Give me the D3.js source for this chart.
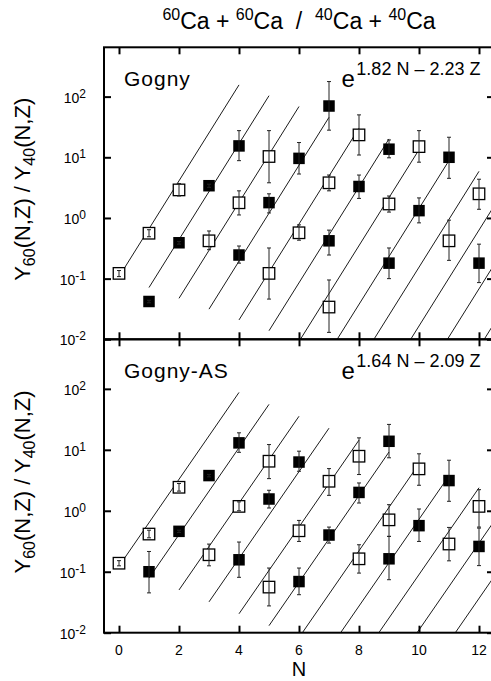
<!DOCTYPE html>
<html><head><meta charset="utf-8">
<script src="https://cdn.jsdelivr.net/npm/d3@7"></script>
<style>
body{margin:0;background:#fff}
svg{display:block}
text{font-family:"Liberation Sans",Arial,Helvetica,sans-serif;fill:#000}
</style>
</head><body>
<svg id="c" width="491" height="681"></svg>
<script>
// ---------- data ----------
// Gogny panel: neutron number, charge, ratio, error low, error high
const gN  = [0,1,2, 1,2,3,4, 3,4,5, 4,5,6,7, 5,6,7,8, 7,8,9, 7,9,10, 9,10,11, 11,12, 12];
const gZ  = [1,1,1, 2,2,2,2, 3,3,3, 4,4,4,4, 5,5,5,5, 6,6,6, 7,7,7, 8,8,8, 9,9, 10];
const gR  = [0.122,0.56,2.9, 0.042,0.39,3.4,15.4, 0.42,1.78,10.3, 0.245,1.79,9.6,70, 0.122,0.57,3.8,23.4, 0.42,3.3,13.6, 0.034,1.70,15.0, 0.18,1.32,10.0, 0.42,2.5, 0.18];
const gLo = [0.108,0.49,2.3, 0.040,0.37,3.2,8.8, 0.30,1.12,3.8, 0.18,1.21,5.3,28, 0.046,0.43,2.8,10.9, 0.245,2.1,9.8, 0.013,1.25,8.3, 0.10,0.83,4.5, 0.20,1.39, 0.086];
const gHi = [0.136,0.64,3.7, 0.044,0.41,3.6,27.5, 0.61,2.8,27.5, 0.345,2.5,17.5,177, 0.32,0.77,5.1,50, 0.63,5.1,19.3, 0.095,2.3,27.5, 0.32,2.14,21.4, 0.92,4.35, 0.37];
const gAlpha = 1.82, gBeta = 2.23;

// Gogny-AS panel
const aN  = [0,1,2, 1,2,3,4, 3,4,5, 4,5,6, 5,6,7,8, 6,7,8,9, 8,9,10, 9,10,11, 11,12, 12];
const aZ  = [1,1,1, 2,2,2,2, 3,3,3, 4,4,4, 5,5,5,5, 6,6,6,6, 7,7,7, 8,8,8, 9,9, 10];
const aR  = [0.138,0.415,2.43, 0.10,0.46,3.78,13.0, 0.19,1.18,6.5, 0.157,1.56,6.3, 0.056,0.47,3.05,7.85, 0.069,0.40,2.0,13.8, 0.163,0.71,4.87, 0.163,0.57,3.13, 0.285,1.18, 0.26];
const aLo = [0.125,0.36,2.1, 0.045,0.44,3.6,9.1, 0.125,1.0,3.37, 0.081,1.11,4.45, 0.0275,0.314,1.79,3.93, 0.042,0.295,1.34,7.4, 0.095,0.38,2.62, 0.074,0.314,1.43, 0.151,0.54, 0.126];
const aHi = [0.152,0.48,2.8, 0.215,0.48,3.95,19, 0.284,1.4,12.2, 0.307,2.17,9.5, 0.115,0.695,4.92,15.7, 0.115,0.54,2.86,26.1, 0.277,1.26,8.6, 0.38,1.07,6.75, 0.533,2.22, 0.52];
const aAlpha = 1.64, aBeta = 2.09;

// isoscaling lines: one per Z, drawn from N = Z-1 to N = Z+3
const lineZ = [1,2,3,4,5,6,7,8,9,10,11,12];
const xTicks = [0,2,4,6,8,10,12];
const yTicks = [0.01,0.1,1,10,100];
const yExp   = ["-2","-1","0","1","2"];
const panelNames = ["Gogny","Gogny-AS"];
const fitLabels = ["1.82 N \u2013 2.23 Z","1.64 N \u2013 2.09 Z"];

// ---------- drawing ----------
const svg = d3.select("#c");
const L = 104, R = 494;
const x = d3.scaleLinear().domain([-0.5,12.5]).range([L,R]);
const yDomain = [0.01,650];

const panels = [
  {top:47.3, bottom:339.3, N:gN, Z:gZ, V:gR, lo:gLo, hi:gHi, alpha:gAlpha, beta:gBeta},
  {top:339.3, bottom:632.7, N:aN, Z:aZ, V:aR, lo:aLo, hi:aHi, alpha:aAlpha, beta:aBeta}
];

// title
const title = svg.append("text").attr("x",299).attr("y",29)
  .attr("text-anchor","middle").style("white-space","pre");
[["60",true],["Ca + ",false],["60",true],["Ca  /  ",false],["40",true],["Ca + ",false],["40",true],["Ca",false]]
  .forEach(([t,sup],i,arr)=>{
    const prevSup = i>0 && arr[i-1][1];
    title.append("tspan").text(t)
      .attr("font-size", sup?16:23)
      .attr("dy", sup ? (i===0?-9:-9) : (prevSup?9:0));
  });

panels.forEach((p,pi)=>{
  const y = d3.scaleLog().domain(yDomain).range([p.bottom,p.top]);
  const g = svg.append("g");
  const clipId = "clip"+pi;
  svg.append("clipPath").attr("id",clipId).append("rect")
    .attr("x",L).attr("y",p.top).attr("width",R-L).attr("height",p.bottom-p.top);

  // fit lines
  const ratio = (n,z)=>Math.exp(p.alpha*n - p.beta*z);
  const line = d3.line().x(d=>x(d[0])).y(d=>y(d[1]));
  g.append("g").attr("clip-path",`url(#${clipId})`)
    .selectAll("path").data(lineZ).join("path")
    .attr("d",z=>line([[z-1,ratio(z-1,z)],[z+3,ratio(z+3,z)]]))
    .attr("fill","none").attr("stroke","#000").attr("stroke-width",0.9);

  const idx = d3.range(p.N.length);
  // markers
  const s = 11.5;
  g.selectAll("rect.m").data(idx).join("rect").attr("class","m")
    .attr("x",i=>x(p.N[i])-s/2).attr("y",i=>y(p.V[i])-s/2)
    .attr("width",s).attr("height",s)
    .attr("fill",i=>p.Z[i]%2===0?"#000":"#fff")
    .attr("stroke","#000")
    .attr("stroke-width",i=>p.Z[i]%2===0?0:1.3);
  // error bars
  const eb = g.append("g").attr("stroke","#222").attr("stroke-width",1);
  idx.forEach(i=>{
    const cx = x(p.N[i]), y1 = y(p.hi[i]), y2 = y(p.lo[i]);
    eb.append("line").attr("x1",cx).attr("x2",cx).attr("y1",y1).attr("y2",y2);
    eb.append("line").attr("x1",cx-2).attr("x2",cx+2).attr("y1",y1).attr("y2",y1);
    eb.append("line").attr("x1",cx-2).attr("x2",cx+2).attr("y1",y2).attr("y2",y2);
  });

  // axes ticks
  const styleAxis = sel=>{sel.select(".domain").remove();
    sel.selectAll(".tick line").attr("stroke","#000").attr("stroke-width",2);};
  svg.append("g").attr("transform",`translate(${L},0)`)
    .call(d3.axisLeft(y).tickValues(yTicks).tickSize(-7).tickFormat("")).call(styleAxis);
  svg.append("g").attr("transform",`translate(${R},0)`)
    .call(d3.axisRight(y).tickValues(yTicks).tickSize(-7).tickFormat("")).call(styleAxis);
  svg.append("g").attr("transform",`translate(0,${p.top})`)
    .call(d3.axisTop(x).tickValues(xTicks).tickSize(-7).tickFormat("")).call(styleAxis);
  svg.append("g").attr("transform",`translate(0,${p.bottom})`)
    .call(d3.axisBottom(x).tickValues(xTicks).tickSize(-7).tickFormat("")).call(styleAxis);

  // frame
  svg.append("rect").attr("x",L).attr("y",p.top).attr("width",R-L).attr("height",p.bottom-p.top)
    .attr("fill","none").attr("stroke","#000").attr("stroke-width",2);

  // y tick labels
  yTicks.forEach((v,k)=>{
    const t = svg.append("text").attr("x",86).attr("y",y(v)+6).attr("text-anchor","end");
    t.append("tspan").text("10").attr("font-size",14);
    t.append("tspan").text(yExp[k]).attr("font-size",12).attr("dy",-5);
  });

  // y axis title
  const yt = svg.append("text")
    .attr("transform",`translate(30,${(p.top+p.bottom)/2-4}) rotate(-90)`)
    .attr("text-anchor","middle").attr("font-size",22);
  yt.append("tspan").text("Y");
  yt.append("tspan").text("60").attr("font-size",16).attr("dy",5);
  yt.append("tspan").text("(N,Z) / Y").attr("dy",-5).style("white-space","pre");
  yt.append("tspan").text("40").attr("font-size",16).attr("dy",5);
  yt.append("tspan").text("(N,Z)").attr("dy",-5);

  // panel name
  svg.append("text").attr("x",124).attr("y",p.top+38.5)
    .attr("font-size",21).attr("letter-spacing",1).text(panelNames[pi]);

  // fit formula
  const f = svg.append("text").attr("x",341.5).attr("y",p.top+39.4);
  f.append("tspan").text("e").attr("font-size",24);
  f.append("tspan").text(fitLabels[pi]).attr("font-size",18).attr("dy",-11.7)
    .attr("dx",1.5).style("white-space","pre");
});

// x tick labels and title
svg.append("g").selectAll("text").data(xTicks).join("text")
  .attr("x",d=>x(d)).attr("y",655).attr("text-anchor","middle")
  .attr("font-size",14).text(d=>d);
svg.append("text").attr("x",x(6)).attr("y",676).attr("text-anchor","middle")
  .attr("font-size",20).text("N");
</script>
</body></html>
